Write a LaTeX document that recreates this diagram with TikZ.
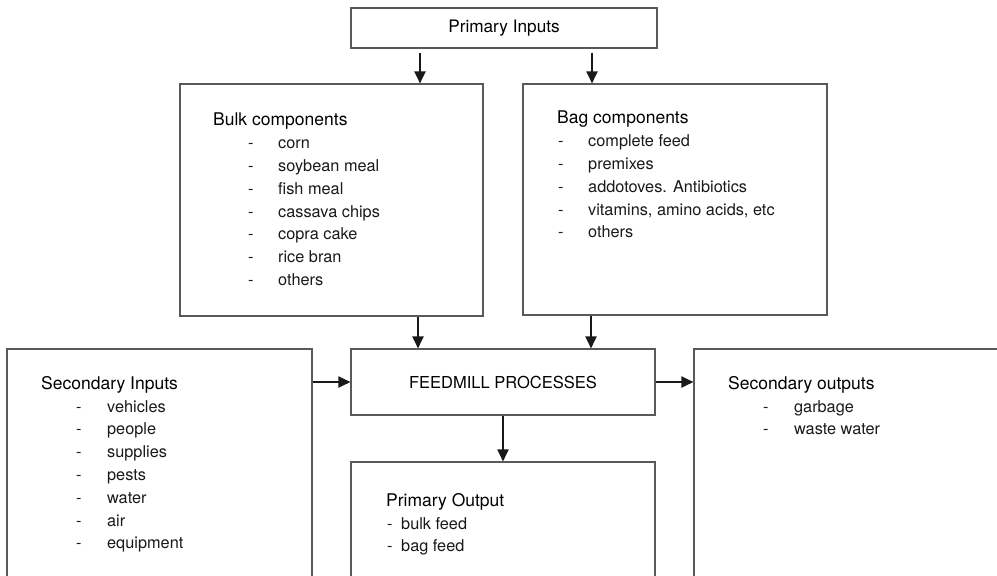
\documentclass[tikz,border=0pt]{standalone}
\usepackage{fontspec}
\setmainfont{TeX Gyre Heros}
\usetikzlibrary{arrows.meta}

\newcommand{\headfont}{\fontsize{17.5}{22.8}\selectfont\color{black}}
\newcommand{\dashitem}[3]{\hspace*{#1}\makebox[#2][l]{-}#3}

\begin{document}
\begin{tikzpicture}[x=1pt,y=-1pt,
	box/.style={draw=black!65, line width=1.1pt, inner sep=0pt},
	list/.style={anchor=north west, inner sep=0pt, align=left, text=black!90, font=\fontsize{16.3}{22.8}\selectfont},
	arr/.style={-{Triangle[length=12pt,width=11pt]}, line width=1.9pt, black!90}]

		% frame
		\useasboundingbox (0,0) rectangle (997,576);
		\clip (0,0) rectangle (997,576);

		% boxes
		\node[box, minimum width=306pt, minimum height=40pt, font=\fontsize{17.2}{20}\selectfont] (inputs) at (504,28) {Primary Inputs};
		\node[box, minimum width=303pt, minimum height=232pt] (bulk) at (331.5,200) {};
		\node[box, minimum width=304pt, minimum height=231pt] (bag) at (675,199.5) {};
		\node[box, minimum width=304pt, minimum height=66pt, font=\fontsize{16.5}{20}\selectfont] (mill) at (503,382) {FEEDMILL PROCESSES};
		\node[box, minimum width=305pt, minimum height=291pt] (secin) at (159.5,494.5) {};
		\node[box, minimum width=304pt, minimum height=178pt] (primout) at (503,551) {};
		\node[box, minimum width=326pt, minimum height=291pt] (secout) at (857,494.5) {};

		% lists
		\node[list] (bulktxt) at (213,113) {{\headfont Bulk components}\\
			\dashitem{35pt}{30pt}{corn}\\
			\dashitem{35pt}{30pt}{soybean meal}\\
			\dashitem{35pt}{30pt}{fish meal}\\
			\dashitem{35pt}{30pt}{cassava chips}\\
			\dashitem{35pt}{30pt}{copra cake}\\
			\dashitem{35pt}{30pt}{rice bran}\\
			\dashitem{35pt}{30pt}{others}};
		\node[list] (bagtxt) at (557,111) {{\headfont Bag components}\\
			\dashitem{1pt}{30pt}{complete feed}\\
			\dashitem{1pt}{30pt}{premixes}\\
			\dashitem{1pt}{30pt}{addotoves. Antibiotics}\\
			\dashitem{1pt}{30pt}{vitamins, amino acids, etc}\\
			\dashitem{1pt}{30pt}{others}};
		\node[list] (secintxt) at (41,376) {{\headfont Secondary Inputs}\\
			\dashitem{35pt}{31pt}{vehicles}\\
			\dashitem{35pt}{31pt}{people}\\
			\dashitem{35pt}{31pt}{supplies}\\
			\dashitem{35pt}{31pt}{pests}\\
			\dashitem{35pt}{31pt}{water}\\
			\dashitem{35pt}{31pt}{air}\\
			\dashitem{35pt}{31pt}{equipment}};
		\node[list] (primouttxt) at (386,493) {{\headfont Primary Output}\\
			\dashitem{1pt}{14pt}{bulk feed}\\
			\dashitem{1pt}{14pt}{bag feed}};
		\node[list] (secouttxt) at (728,376) {{\headfont Secondary outputs}\\
			\dashitem{35pt}{31pt}{garbage}\\
			\dashitem{35pt}{31pt}{waste water}};

		% arrows
		\draw[arr, shorten <=4pt] (inputs.south -| 420,0) -- (bulk.north -| 420,0);
		\draw[arr, shorten <=4pt] (inputs.south -| 592,0) -- (bag.north -| 592,0);
		\draw[arr] (bulk.south -| 418,0) -- (mill.north -| 418,0);
		\draw[arr] (bag.south -| 591,0) -- (mill.north -| 591,0);
		\draw[arr] (mill.west -| secin.east) -- (mill.west);
		\draw[arr] (mill.east) -- (mill.east -| secout.west);
		\draw[arr] (mill.south) -- (primout.north);
	\end{tikzpicture}
\end{document}
